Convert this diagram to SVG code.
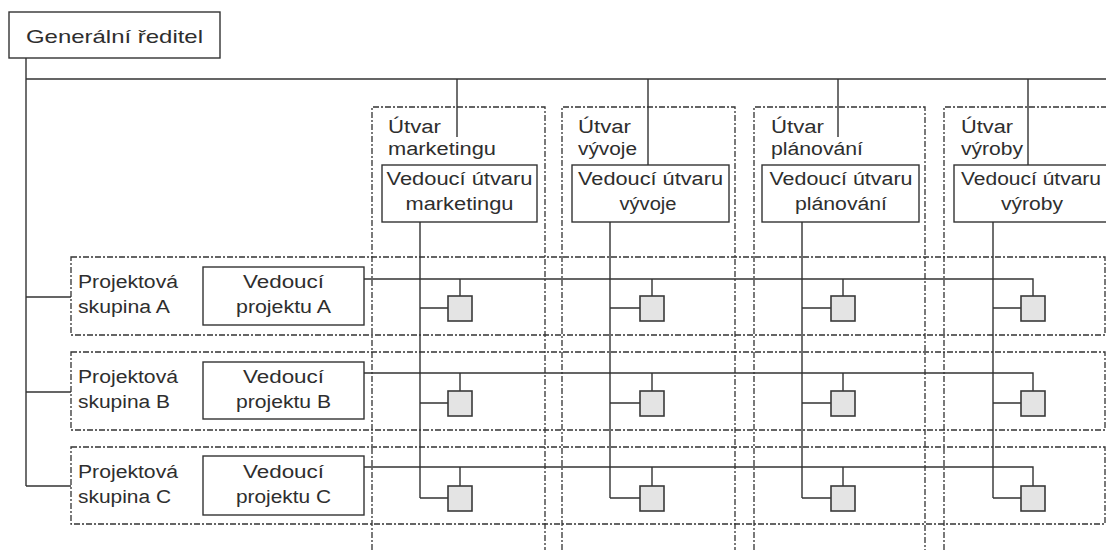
<svg xmlns="http://www.w3.org/2000/svg" width="1106" height="550" viewBox="0 0 1106 550">
<style>
.bg{fill:#ffffff}
.box{fill:#ffffff;stroke:#333333;stroke-width:1.4}
.dash{fill:none;stroke:#333333;stroke-width:1.3;stroke-dasharray:6 2 2 2}
.ln{fill:none;stroke:#333333;stroke-width:1.4}
.sq{fill:#e4e4e4;stroke:#3a3a3a;stroke-width:1.6}
text{font-family:"Liberation Sans",Arial,sans-serif;font-size:18px;fill:#2e2e2e}
.t{font-size:19px}
.c{text-anchor:middle}
</style>
<rect class="bg" x="0" y="0" width="1106" height="550"/>

<g id="connectors">
  <path class="ln" d="M26 58 V486 M26 79 H1106 M26 297 H71 M26 392 H71 M26 486 H71"/>
  <path class="ln" d="M457 79 V137 M648 79 V165 M838 79 V137 M1028 79 V165"/>
  <path class="ln" d="M420 222 V498 M610 222 V498 M802 222 V498 M993 222 V498"/>
  <path class="ln" d="M364 279 H1033 V296 M460 279 V296 M652 279 V296 M843 279 V296"/>
  <path class="ln" d="M364 373 H1033 V391 M460 373 V391 M652 373 V391 M843 373 V391"/>
  <path class="ln" d="M364 467 H1033 V486 M460 467 V486 M652 467 V486 M843 467 V486"/>
  <path class="ln" d="M420 308 H448 M610 308 H640 M802 308 H831 M993 308 H1021"/>
  <path class="ln" d="M420 403 H448 M610 403 H640 M802 403 H831 M993 403 H1021"/>
  <path class="ln" d="M420 498 H448 M610 498 H640 M802 498 H831 M993 498 H1021"/>
</g>

<g id="dept-marketing">
  <path class="dash" d="M372 550 V107 H545 V550"/>
  <text x="388" y="133" textLength="53" lengthAdjust="spacingAndGlyphs">Útvar</text>
  <text x="388" y="155" textLength="108" lengthAdjust="spacingAndGlyphs">marketingu</text>
</g>
<g id="dept-vyvoj">
  <path class="dash" d="M562 550 V107 H735 V550"/>
  <text x="578" y="133" textLength="53" lengthAdjust="spacingAndGlyphs">Útvar</text>
  <text x="578" y="155" textLength="59" lengthAdjust="spacingAndGlyphs">vývoje</text>
</g>
<g id="dept-planovani">
  <path class="dash" d="M754 550 V107 H925 V550"/>
  <text x="771" y="133" textLength="53" lengthAdjust="spacingAndGlyphs">Útvar</text>
  <text x="771" y="155" textLength="92" lengthAdjust="spacingAndGlyphs">plánování</text>
</g>
<g id="dept-vyroba">
  <path class="dash" d="M944 550 V107 H1110"/>
  <text x="961" y="133" textLength="52" lengthAdjust="spacingAndGlyphs">Útvar</text>
  <text x="961" y="155" textLength="62" lengthAdjust="spacingAndGlyphs">výroby</text>
</g>

<g id="group-A">
  <rect class="dash" x="71" y="257" width="1034" height="78"/>
  <text x="78" y="288" textLength="100" lengthAdjust="spacingAndGlyphs">Projektová</text>
  <text x="78" y="313" textLength="92" lengthAdjust="spacingAndGlyphs">skupina A</text>
</g>
<g id="group-B">
  <rect class="dash" x="71" y="352" width="1034" height="78"/>
  <text x="78" y="383" textLength="100" lengthAdjust="spacingAndGlyphs">Projektová</text>
  <text x="78" y="408" textLength="92" lengthAdjust="spacingAndGlyphs">skupina B</text>
</g>
<g id="group-C">
  <rect class="dash" x="71" y="447" width="1034" height="77"/>
  <text x="78" y="478" textLength="100" lengthAdjust="spacingAndGlyphs">Projektová</text>
  <text x="78" y="503" textLength="93" lengthAdjust="spacingAndGlyphs">skupina C</text>
</g>

<g id="ceo">
  <rect class="box" x="9" y="12" width="211" height="46"/>
  <text class="t" x="26" y="43" textLength="177" lengthAdjust="spacingAndGlyphs">Generální ředitel</text>
</g>

<g id="mgr-marketing">
  <rect class="box" x="382" y="165" width="155" height="57"/>
  <text class="c" x="459.5" y="185" textLength="146" lengthAdjust="spacingAndGlyphs">Vedoucí útvaru</text>
  <text class="c" x="459.5" y="210" textLength="108" lengthAdjust="spacingAndGlyphs">marketingu</text>
</g>
<g id="mgr-vyvoj">
  <rect class="box" x="572" y="165" width="157" height="57"/>
  <text class="c" x="650.5" y="185" textLength="145" lengthAdjust="spacingAndGlyphs">Vedoucí útvaru</text>
  <text class="c" x="648" y="210" textLength="57" lengthAdjust="spacingAndGlyphs">vývoje</text>
</g>
<g id="mgr-planovani">
  <rect class="box" x="762" y="165" width="157" height="57"/>
  <text class="c" x="841" y="185" textLength="143" lengthAdjust="spacingAndGlyphs">Vedoucí útvaru</text>
  <text class="c" x="841" y="210" textLength="92" lengthAdjust="spacingAndGlyphs">plánování</text>
</g>
<g id="mgr-vyroba">
  <rect class="box" x="954" y="165" width="156" height="57"/>
  <text class="c" x="1031" y="185" textLength="140" lengthAdjust="spacingAndGlyphs">Vedoucí útvaru</text>
  <text class="c" x="1032" y="210" textLength="62" lengthAdjust="spacingAndGlyphs">výroby</text>
</g>

<g id="pm-A">
  <rect class="box" x="203" y="267" width="161" height="58"/>
  <text class="c" x="283.5" y="288" textLength="81" lengthAdjust="spacingAndGlyphs">Vedoucí</text>
  <text class="c" x="283.5" y="313" textLength="95" lengthAdjust="spacingAndGlyphs">projektu A</text>
</g>
<g id="pm-B">
  <rect class="box" x="203" y="362" width="161" height="57"/>
  <text class="c" x="283.5" y="383" textLength="81" lengthAdjust="spacingAndGlyphs">Vedoucí</text>
  <text class="c" x="283.5" y="408" textLength="95" lengthAdjust="spacingAndGlyphs">projektu B</text>
</g>
<g id="pm-C">
  <rect class="box" x="203" y="456" width="161" height="59"/>
  <text class="c" x="283.5" y="478" textLength="81" lengthAdjust="spacingAndGlyphs">Vedoucí</text>
  <text class="c" x="283.5" y="503" textLength="95" lengthAdjust="spacingAndGlyphs">projektu C</text>
</g>

<g id="members">
  <rect class="sq" x="448" y="296" width="24" height="25"/>
  <rect class="sq" x="640" y="296" width="24" height="25"/>
  <rect class="sq" x="831" y="296" width="24" height="25"/>
  <rect class="sq" x="1021" y="296" width="24" height="25"/>
  <rect class="sq" x="448" y="391" width="24" height="25"/>
  <rect class="sq" x="640" y="391" width="24" height="25"/>
  <rect class="sq" x="831" y="391" width="24" height="25"/>
  <rect class="sq" x="1021" y="391" width="24" height="25"/>
  <rect class="sq" x="448" y="486" width="24" height="25"/>
  <rect class="sq" x="640" y="486" width="24" height="25"/>
  <rect class="sq" x="831" y="486" width="24" height="25"/>
  <rect class="sq" x="1021" y="486" width="24" height="25"/>
</g>
</svg>
